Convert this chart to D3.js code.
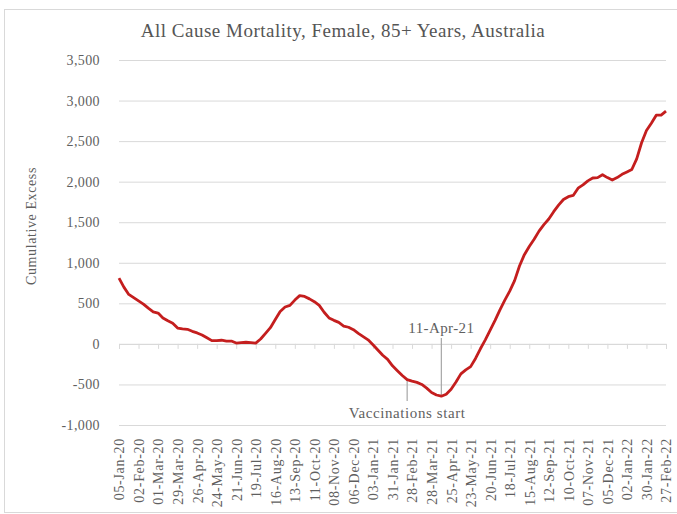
<!DOCTYPE html>
<html>
<head>
<meta charset="utf-8">
<script src="https://cdn.jsdelivr.net/npm/d3@7"></script>
<style>
  body { margin: 0; background: #fff; }
  svg text { font-family: "Liberation Serif", "Times New Roman", serif; }
</style>
</head>
<body>
<svg width="677" height="514"></svg>
<script>
// weekly cumulative excess deaths, 05-Jan-20 .. 27-Feb-22
const excess = [
  810, 700, 610, 570, 530, 490, 440, 395, 380, 320, 285, 255, 195, 185, 180, 155,
  135, 110, 75, 40, 40, 45, 35, 35, 10, 15, 20, 15, 10, 60, 130, 200,
  300, 400, 455, 475, 540, 595, 585, 555, 520, 475, 390, 320, 290, 265, 220, 205,
  175, 130, 90, 50, -10, -75, -140, -190, -270, -330, -390, -440, -460, -475, -500, -545,
  -600, -630, -645, -620, -560, -470, -370, -320, -280, -180, -60, 50, 170, 290, 420, 540,
  650, 780, 960, 1100, 1200, 1290, 1390, 1470, 1540, 1630, 1710, 1780, 1815, 1830, 1920, 1960,
  2010, 2045, 2050, 2085, 2050, 2020, 2050, 2090, 2120, 2150, 2280, 2480, 2630, 2720, 2820, 2820,
  2870
];
const tickLabels = [
  "05-Jan-20", "02-Feb-20", "01-Mar-20", "29-Mar-20", "26-Apr-20", "24-May-20",
  "21-Jun-20", "19-Jul-20", "16-Aug-20", "13-Sep-20", "11-Oct-20", "08-Nov-20",
  "06-Dec-20", "03-Jan-21", "31-Jan-21", "28-Feb-21", "28-Mar-21", "25-Apr-21",
  "23-May-21", "20-Jun-21", "18-Jul-21", "15-Aug-21", "12-Sep-21", "10-Oct-21",
  "07-Nov-21", "05-Dec-21", "02-Jan-22", "30-Jan-22", "27-Feb-22"
];
const yTicks = [-1000, -500, 0, 500, 1000, 1500, 2000, 2500, 3000, 3500];
const annotations = [
  { week: 66, label: "11-Apr-21", above: true },
  { week: 59, label: "Vaccinations start", above: false }
];

const title = "All Cause Mortality, Female, 85+ Years, Australia";
const svg = d3.select("svg");
const textColor = "#5f5f5f";

// chart area frame
svg.append("rect")
  .attr("x", 4.5).attr("y", 9.5)
  .attr("width", 690).attr("height", 503)
  .attr("fill", "none").attr("stroke", "#d9d9d9");

const x = d3.scaleLinear().domain([0, excess.length - 1]).range([119, 666]);
const y = d3.scaleLinear().domain([-1000, 3500]).range([425, 60]);

// gridlines
const grid = svg.append("g")
  .attr("transform", `translate(${x.range()[0]},0)`)
  .call(d3.axisLeft(y).tickValues(yTicks).tickSize(-(x.range()[1] - x.range()[0])).tickFormat(""));
grid.select(".domain").remove();
grid.selectAll("line").attr("stroke", "#d9d9d9");

// y tick labels (plain hyphen for negatives)
const fmt = d3.format(",");
const yAxis = svg.append("g")
  .attr("transform", "translate(103,0)")
  .call(d3.axisLeft(y).tickValues(yTicks).tickSize(0).tickFormat((d) => fmt(d).replace("\u2212", "-")));
yAxis.select(".domain").remove();
yAxis.selectAll("text")
  .attr("font-size", 14).attr("fill", textColor)
  .attr("font-family", "Liberation Serif")
  .attr("letter-spacing", 0.4);

svg.append("text")
  .attr("transform", "translate(36,226) rotate(-90)")
  .attr("text-anchor", "middle")
  .attr("font-size", 14).attr("fill", textColor)
  .attr("letter-spacing", 0.6)
  .text("Cumulative Excess");

// x axis at zero with tick marks
const tickWeeks = tickLabels.map((_, i) => i * 4);
const xAxis = svg.append("g")
  .attr("transform", `translate(0,${y(0)})`)
  .call(d3.axisBottom(x).tickValues(tickWeeks).tickSize(5).tickFormat(""));
xAxis.selectAll("line, path").attr("stroke", "#d9d9d9");

// low-position labels
const xLabels = svg.append("g")
  .attr("transform", "translate(0,438)")
  .call(d3.axisBottom(x).tickValues(tickWeeks).tickSize(0).tickFormat((d) => tickLabels[d / 4]));
xLabels.select(".domain").remove();
xLabels.selectAll("text")
  .attr("font-size", 14).attr("fill", textColor)
  .attr("font-family", "Liberation Serif")
  .attr("letter-spacing", 0.7)
  .attr("transform", "rotate(-90)")
  .attr("text-anchor", "end")
  .attr("x", 0).attr("y", 0).attr("dy", "0.35em");

// annotations
annotations.forEach((a) => {
  const ax = x(a.week);
  const ay = y(excess[a.week]);
  if (a.above) {
    svg.append("line")
      .attr("x1", ax).attr("x2", ax).attr("y1", 338).attr("y2", ay)
      .attr("stroke", "#a6a6a6").attr("stroke-width", 1.2);
    svg.append("text")
      .attr("x", ax).attr("y", 333).attr("text-anchor", "middle")
      .attr("font-size", 15).attr("fill", textColor)
      .attr("letter-spacing", 0.4).text(a.label);
  } else {
    svg.append("line")
      .attr("x1", ax).attr("x2", ax).attr("y1", ay).attr("y2", 401)
      .attr("stroke", "#a6a6a6").attr("stroke-width", 1.2);
    svg.append("text")
      .attr("x", ax).attr("y", 418).attr("text-anchor", "middle")
      .attr("font-size", 15).attr("fill", textColor)
      .attr("letter-spacing", 0.6).text(a.label);
  }
});

// series line
const line = d3.line()
  .x((d, i) => x(i))
  .y((d) => y(d));
svg.append("path")
  .datum(excess)
  .attr("d", line)
  .attr("fill", "none")
  .attr("stroke", "#c41e1e")
  .attr("stroke-width", 2.8)
  .attr("stroke-linejoin", "round");

svg.append("text")
  .attr("x", 343).attr("y", 37)
  .attr("text-anchor", "middle")
  .attr("font-size", 19).attr("fill", "#555")
  .attr("letter-spacing", 0.5)
  .text(title);
</script>
</body>
</html>
